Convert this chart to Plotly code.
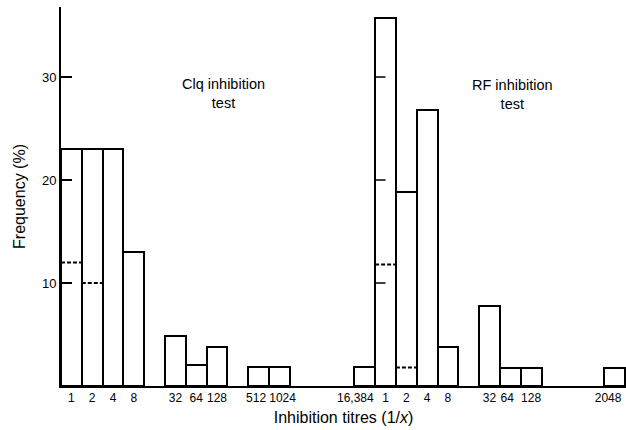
import plotly.graph_objects as go

# ---- data ----
clq_titres = ["1", "2", "4", "8", "16", "32", "64", "128", "256", "512", "1024"]
clq_freq = [23, 23, 23, 13, 0, 4.9, 2.0, 3.8, 0, 1.8, 1.8]
clq_dashed_titres = ["1", "2"]
clq_dashed_values = [12, 10]

rf_titres = ["16,384", "1", "2", "4", "8", "16", "32", "64", "128", "256", "512", "1024", "2048"]
rf_freq = [1.8, 35.7, 18.8, 26.8, 3.8, 0, 7.8, 1.7, 1.7, 0, 0, 0, 1.7]
rf_dashed_titres = ["1", "2"]
rf_dashed_values = [11.8, 1.8]
rf_mark_titre = "1"
rf_mark_values = [10, 20, 30]

y_ticks = [10, 20, 30]

# ---- layout helpers ----
RF_OFFSET = 14.1
FONT = "Liberation Sans"
# small horizontal nudges of tick labels (in slot units), as printed
CLQ_NUDGE = {"512": -0.12, "1024": 0.15}
RF_NUDGE = {"16,384": -0.45, "64": -0.15, "2048": -0.3}


def clq_pos(t):
    return clq_titres.index(t) + 0.5


def rf_pos(t):
    return RF_OFFSET + rf_titres.index(t) + 0.5


fig = go.Figure()

bar_style = dict(marker=dict(color="white", line=dict(color="black", width=2)),
                 width=1, showlegend=False, hoverinfo="skip")

cx = [clq_pos(t) for t, f in zip(clq_titres, clq_freq) if f > 0]
cy = [f for f in clq_freq if f > 0]
rx = [rf_pos(t) for t, f in zip(rf_titres, rf_freq) if f > 0]
ry = [f for f in rf_freq if f > 0]
fig.add_trace(go.Bar(x=cx, y=cy, **bar_style))
fig.add_trace(go.Bar(x=rx, y=ry, **bar_style))

shapes = []
for t, v in zip(clq_dashed_titres, clq_dashed_values):
    p = clq_pos(t)
    shapes.append(dict(type="line", x0=p - 0.5, x1=p + 0.5, y0=v, y1=v,
                       line=dict(color="black", width=2, dash="4px,2px")))
for t, v in zip(rf_dashed_titres, rf_dashed_values):
    p = rf_pos(t)
    shapes.append(dict(type="line", x0=p - 0.5, x1=p + 0.5, y0=v, y1=v,
                       line=dict(color="black", width=2, dash="4px,2px")))
pm = rf_pos(rf_mark_titre)
for v in rf_mark_values:
    shapes.append(dict(type="line", x0=pm - 0.5, x1=pm, y0=v, y1=v,
                       line=dict(color="black", width=1.5)))

tickvals, ticktext = [], []
for t, f in zip(clq_titres, clq_freq):
    if f > 0:
        tickvals.append(clq_pos(t) + CLQ_NUDGE.get(t, 0))
        ticktext.append(t)
for t, f in zip(rf_titres, rf_freq):
    if f > 0:
        tickvals.append(rf_pos(t) + RF_NUDGE.get(t, 0))
        ticktext.append(t)

x_max = RF_OFFSET + len(rf_titres) + 0.06

fig.update_layout(
    width=626, height=430,
    margin=dict(l=61, r=0, t=7, b=44),
    plot_bgcolor="white", paper_bgcolor="white",
    bargap=0,
    font=dict(family=FONT, color="black"),
    shapes=shapes,
    xaxis=dict(range=[0, x_max], showgrid=False, zeroline=False,
               showline=True, linecolor="black", linewidth=2,
               tickvals=tickvals, ticktext=ticktext, ticks="",
               tickangle=0, ticklabeloverflow="allow",
               tickfont=dict(size=12, family=FONT),
               title=dict(text="Inhibition titres (1/<i>x</i>)",
                          font=dict(size=16, family=FONT), standoff=7),
               automargin=False),
    yaxis=dict(range=[0, 36.8], showgrid=False, zeroline=False,
               showline=True, linecolor="black", linewidth=2,
               tickvals=y_ticks, ticks="inside", ticklen=11, tickwidth=1.5,
               tickcolor="black", tickfont=dict(size=13, family=FONT),
               title=dict(text="Frequency (%)", font=dict(size=16, family=FONT),
                          standoff=12),
               automargin=False),
    annotations=[
        dict(text="Clq inhibition<br>test", x=7.8, y=28.4, xref="x", yref="y",
             showarrow=False, font=dict(size=14.5, family=FONT)),
        dict(text="RF inhibition<br>test", x=21.7, y=28.3, xref="x", yref="y",
             showarrow=False, font=dict(size=14.5, family=FONT)),
    ],
)

fig.write_html("out.html")
